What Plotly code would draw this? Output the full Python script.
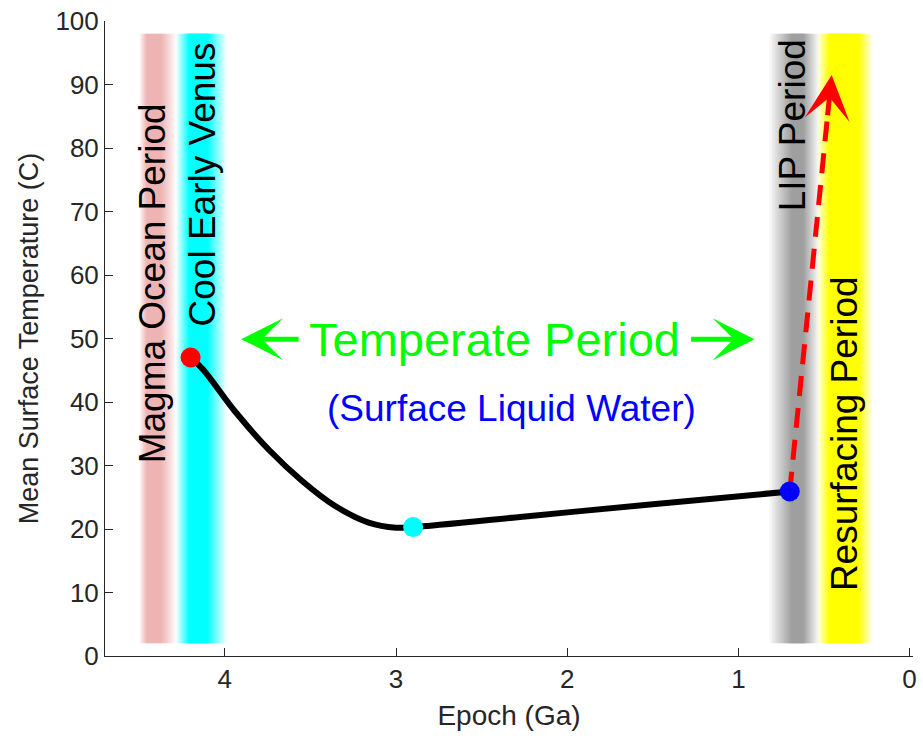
import plotly.graph_objects as go

# ---------------- data ----------------
curve_x = [4.20, 4.13, 3.94, 3.74, 3.55, 3.36, 3.16, 3.00, 2.90, 2.20, 1.50, 0.70]
curve_y = [47.0, 45.2, 38.5, 32.4, 27.6, 23.7, 21.0, 20.2, 20.3, 22.1, 23.9, 25.9]

marker_x = [4.20, 2.90, 0.70]
marker_y = [47.0, 20.3, 25.9]
marker_colors = ["#FF0000", "#00FFFF", "#0000FF"]

arrow_x = [0.70, 0.455]
arrow_y = [25.9, 91.5]

# band name, outer edges, core edges, rgb, max opacity
band_names = ["Magma Ocean", "Cool Early Venus", "LIP", "Resurfacing"]
band_outer = [(4.50, 4.285), (4.285, 3.99), (0.82, 0.53), (0.54, 0.215)]
band_core = [(4.455, 4.37), (4.21, 4.10), (0.69, 0.62), (0.47, 0.295)]
band_rgb = [(236, 160, 160), (0, 255, 255), (150, 150, 150), (255, 255, 0)]
band_alpha = [0.75, 1.0, 0.9, 1.0]
band_y = (2, 98)

period_labels = ["Magma Ocean Period", "Cool Early Venus", "LIP Period", "Resurfacing Period"]
period_label_x = [4.425, 4.132, 0.686, 0.381]
period_label_y = [58.7, 74.3, 83.6, 35.0]

temperate_text = "Temperate Period"
temperate_pos = (2.425, 49.9)
temperate_arrows = [(3.56, 3.905), (1.285, 0.905)]  # (tail, tip)
water_text = "(Surface Liquid Water)"
water_pos = (2.326, 39.0)

x_ticks = [4, 3, 2, 1, 0]
y_ticks = [0, 10, 20, 30, 40, 50, 60, 70, 80, 90, 100]

FONT = "Liberation Sans, Arial, Helvetica, sans-serif"
AXC = "#262626"

fig = go.Figure()

# ---------------- gradient bands (nested rects, linear opacity ramp) ----------------
shapes = []
N = 16
for (o0, o1), (c0, c1), rgb, amax in zip(band_outer, band_core, band_rgb, band_alpha):
    prev = 0.0
    for k in range(N):
        t = k / (N - 1)
        target = min(amax * (k + 1) / N, 0.995)
        a = 1 - (1 - target) / (1 - prev)
        prev = target
        x0 = o0 + (c0 - o0) * t
        x1 = o1 + (c1 - o1) * t
        shapes.append(dict(type="rect", xref="x", yref="y", x0=x0, x1=x1,
                           y0=band_y[0], y1=band_y[1],
                           fillcolor="rgb(%d,%d,%d)" % rgb, opacity=a,
                           line=dict(width=0), layer="below"))

# ---------------- curve ----------------
fig.add_trace(go.Scatter(x=curve_x, y=curve_y, mode="lines",
                         line=dict(color="black", width=6, shape="spline", smoothing=1.0),
                         showlegend=False, hoverinfo="skip"))

# dashed red arrow shaft
frac = 0.9
shaft_end_x = arrow_x[0] + (arrow_x[1] - arrow_x[0]) * frac
shaft_end_y = arrow_y[0] + (arrow_y[1] - arrow_y[0]) * frac
fig.add_trace(go.Scatter(x=[arrow_x[0], shaft_end_x], y=[arrow_y[0], shaft_end_y],
                         mode="lines", line=dict(color="#FF0000", width=5, dash="20px,12px"),
                         showlegend=False, hoverinfo="skip"))

fig.add_trace(go.Scatter(x=marker_x, y=marker_y, mode="markers",
                         marker=dict(color=marker_colors, size=20, line=dict(width=0)),
                         showlegend=False, hoverinfo="skip"))

annotations = []
# arrow head
annotations.append(dict(x=arrow_x[1], y=arrow_y[1], ax=shaft_end_x, ay=shaft_end_y,
                        xref="x", yref="y", axref="x", ayref="y", text="",
                        showarrow=True, arrowhead=3, arrowwidth=5, arrowsize=1.5,
                        arrowcolor="#FF0000"))

for txt, xx, yy in zip(period_labels, period_label_x, period_label_y):
    annotations.append(dict(x=xx, y=yy, xref="x", yref="y", text=txt, showarrow=False,
                            textangle=-90, xanchor="center", yanchor="middle",
                            font=dict(family=FONT, size=37, color="black")))

annotations.append(dict(x=temperate_pos[0], y=temperate_pos[1], xref="x", yref="y",
                        text=temperate_text, showarrow=False, xanchor="center", yanchor="middle",
                        font=dict(family=FONT, size=47, color="#00FF00")))
for tail, tip in temperate_arrows:
    annotations.append(dict(x=tip, y=temperate_pos[1], ax=tail, ay=temperate_pos[1],
                            xref="x", yref="y", axref="x", ayref="y", text="",
                            showarrow=True, arrowhead=3, arrowwidth=5, arrowsize=1.4,
                            arrowcolor="#00FF00"))
annotations.append(dict(x=water_pos[0], y=water_pos[1], xref="x", yref="y",
                        text=water_text, showarrow=False, xanchor="center", yanchor="middle",
                        font=dict(family=FONT, size=37, color="#0000FF")))

fig.update_layout(
    width=923, height=740,
    margin=dict(l=105, r=6, t=15, b=84),
    plot_bgcolor="white", paper_bgcolor="white",
    shapes=shapes, annotations=annotations,
    font=dict(family=FONT, color=AXC),
    xaxis=dict(range=[4.7, -0.02], tickvals=x_ticks, ticktext=[str(v) for v in x_ticks],
               ticks="inside", ticklen=8, tickcolor=AXC, showline=True, linecolor=AXC,
               linewidth=1, showgrid=False, zeroline=False, mirror=False,
               tickfont=dict(size=26, color=AXC), ticklabeloverflow="allow",
               title=dict(text="Epoch (Ga)", font=dict(size=28, color=AXC), standoff=12)),
    yaxis=dict(range=[0, 100], tickvals=y_ticks, ticks="inside", ticklen=8, tickcolor=AXC,
               showline=True, linecolor=AXC, linewidth=1, showgrid=False, zeroline=False,
               mirror=False, tickfont=dict(size=26, color=AXC), ticklabeloverflow="allow",
               title=dict(text="Mean Surface Temperature (C)", font=dict(size=27, color=AXC),
                          standoff=8)),
)

fig.write_html("out.html", config={"displayModeBar": False},
               post_script="document.body.style.margin='0px';")
